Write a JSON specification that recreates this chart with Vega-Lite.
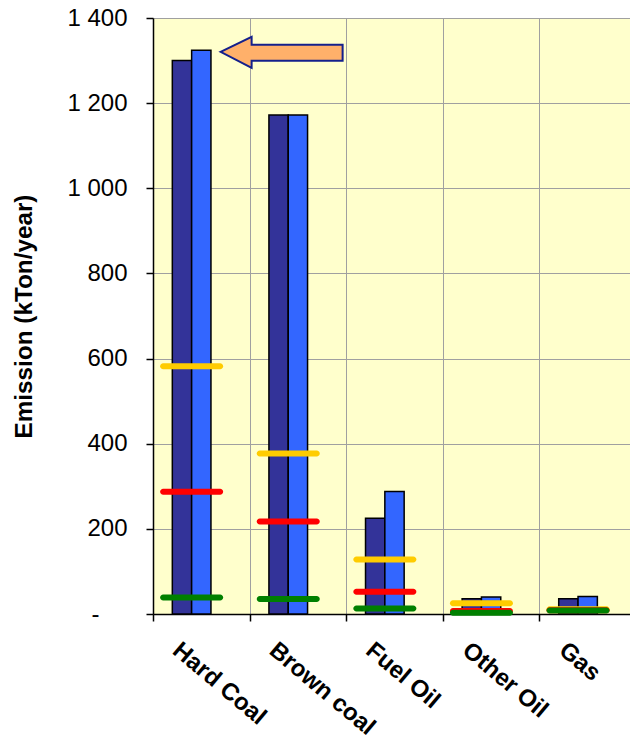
{
  "$schema": "https://vega.github.io/schema/vega-lite/v6.json",
  "autosize": {"type": "none"},
  "width": 477,
  "height": 596,
  "padding": {"left": 153, "top": 18, "right": 0, "bottom": 130},
  "background": "white",
  "config": {
    "view": {"fill": "#FFFFCC", "stroke": null},
    "font": "Liberation Sans"
  },
  "datasets": {
    "emissions": [
      {"fuel": "Hard Coal", "series": "Series 1", "value": 1300},
      {"fuel": "Hard Coal", "series": "Series 2", "value": 1324},
      {"fuel": "Brown coal", "series": "Series 1", "value": 1172},
      {"fuel": "Brown coal", "series": "Series 2", "value": 1172},
      {"fuel": "Fuel Oil", "series": "Series 1", "value": 225},
      {"fuel": "Fuel Oil", "series": "Series 2", "value": 288},
      {"fuel": "Other Oil", "series": "Series 1", "value": 36},
      {"fuel": "Other Oil", "series": "Series 2", "value": 40},
      {"fuel": "Gas", "series": "Series 1", "value": 36},
      {"fuel": "Gas", "series": "Series 2", "value": 41}
    ],
    "levels": [
      {"fuel": "Hard Coal", "level": "Level 1", "value": 582},
      {"fuel": "Brown coal", "level": "Level 1", "value": 377},
      {"fuel": "Fuel Oil", "level": "Level 1", "value": 128},
      {"fuel": "Other Oil", "level": "Level 1", "value": 25},
      {"fuel": "Gas", "level": "Level 1", "value": 11},
      {"fuel": "Hard Coal", "level": "Level 2", "value": 287},
      {"fuel": "Brown coal", "level": "Level 2", "value": 217},
      {"fuel": "Fuel Oil", "level": "Level 2", "value": 52},
      {"fuel": "Other Oil", "level": "Level 2", "value": 7},
      {"fuel": "Gas", "level": "Level 2", "value": 9},
      {"fuel": "Hard Coal", "level": "Level 3", "value": 39},
      {"fuel": "Brown coal", "level": "Level 3", "value": 35},
      {"fuel": "Fuel Oil", "level": "Level 3", "value": 13},
      {"fuel": "Other Oil", "level": "Level 3", "value": 3},
      {"fuel": "Gas", "level": "Level 3", "value": 8}
    ]
  },
  "encoding": {
    "x": {
      "field": "fuel",
      "type": "nominal",
      "sort": ["Hard Coal", "Brown coal", "Fuel Oil", "Other Oil", "Gas"],
      "scale": {"range": [0, 483], "paddingInner": 0, "paddingOuter": 0},
      "axis": {
        "title": null,
        "labelAngle": 40,
        "labelAlign": "left",
        "labelBaseline": "middle",
        "labelFontSize": 24,
        "labelFontWeight": "bold",
        "labelColor": "black",
        "labelOffset": -26,
        "labelPadding": 26,
        "tickBand": "extent",
        "grid": true,
        "gridColor": "#A0A0A0",
        "gridWidth": 1,
        "domainColor": "black",
        "domainWidth": 1.5,
        "tickColor": "black",
        "tickSize": 7,
        "tickWidth": 1.5
      }
    },
    "y": {
      "field": "value",
      "type": "quantitative",
      "scale": {"domain": [0, 1400], "nice": false},
      "axis": {
        "values": [0, 200, 400, 600, 800, 1000, 1200, 1400],
        "labelExpr": "datum.value === 0 ? '-' : replace(format(datum.value, ','), ',', ' ')",
        "labelFontSize": 24,
        "labelColor": "black",
        "labelPadding": {"condition": {"test": "datum.value === 0", "value": 47}, "value": 19},
        "tickSize": 7,
        "tickColor": "black",
        "tickWidth": 1.5,
        "domainColor": "black",
        "domainWidth": 1.5,
        "gridColor": "#A0A0A0",
        "gridWidth": 1,
        "title": "Emission (kTon/year)",
        "titleFontSize": 24.3,
        "titleFontWeight": "bold",
        "titleColor": "black",
        "titlePadding": 30
      }
    }
  },
  "layer": [
    {
      "data": {"name": "emissions"},
      "mark": {"type": "bar", "stroke": "black", "strokeWidth": 1.5, "opacity": 1},
      "encoding": {
        "xOffset": {
          "field": "series",
          "type": "nominal",
          "scale": {"domain": ["Series 1", "Series 2", "Series 3"], "paddingInner": 0, "paddingOuter": 1}
        },
        "color": {
          "field": "series",
          "type": "nominal",
          "scale": {"domain": ["Series 1", "Series 2", "Series 3"], "range": ["#333399", "#3366FF", "#000000"]},
          "legend": null
        }
      }
    },
    {
      "data": {"name": "levels"},
      "mark": {"type": "tick", "thickness": 6, "size": 63, "cornerRadius": 3, "xOffset": -9.66, "opacity": 1},
      "encoding": {
        "color": {
          "field": "level",
          "type": "nominal",
          "scale": {"domain": ["Level 1", "Level 2", "Level 3"], "range": ["#FFCC00", "#FF0000", "#008000"]},
          "legend": null
        }
      }
    },
    {
      "data": {"name": "emissions"},
      "transform": [{"filter": "datum.fuel === 'Hard Coal' && datum.series === 'Series 2'"}],
      "mark": {
        "type": "point",
        "shape": "M0,0.03 L0.62,-0.27 L0.62,-0.114 L2.44,-0.114 L2.44,0.206 L0.62,0.206 L0.62,0.352 Z",
        "size": 10000,
        "filled": true,
        "fill": "#FFB06A",
        "stroke": "#14208C",
        "strokeWidth": 2,
        "opacity": 1
      },
      "encoding": {
        "xOffset": {"datum": "Series 3"}
      }
    }
  ],
  "resolve": {"scale": {"color": "independent"}}
}
